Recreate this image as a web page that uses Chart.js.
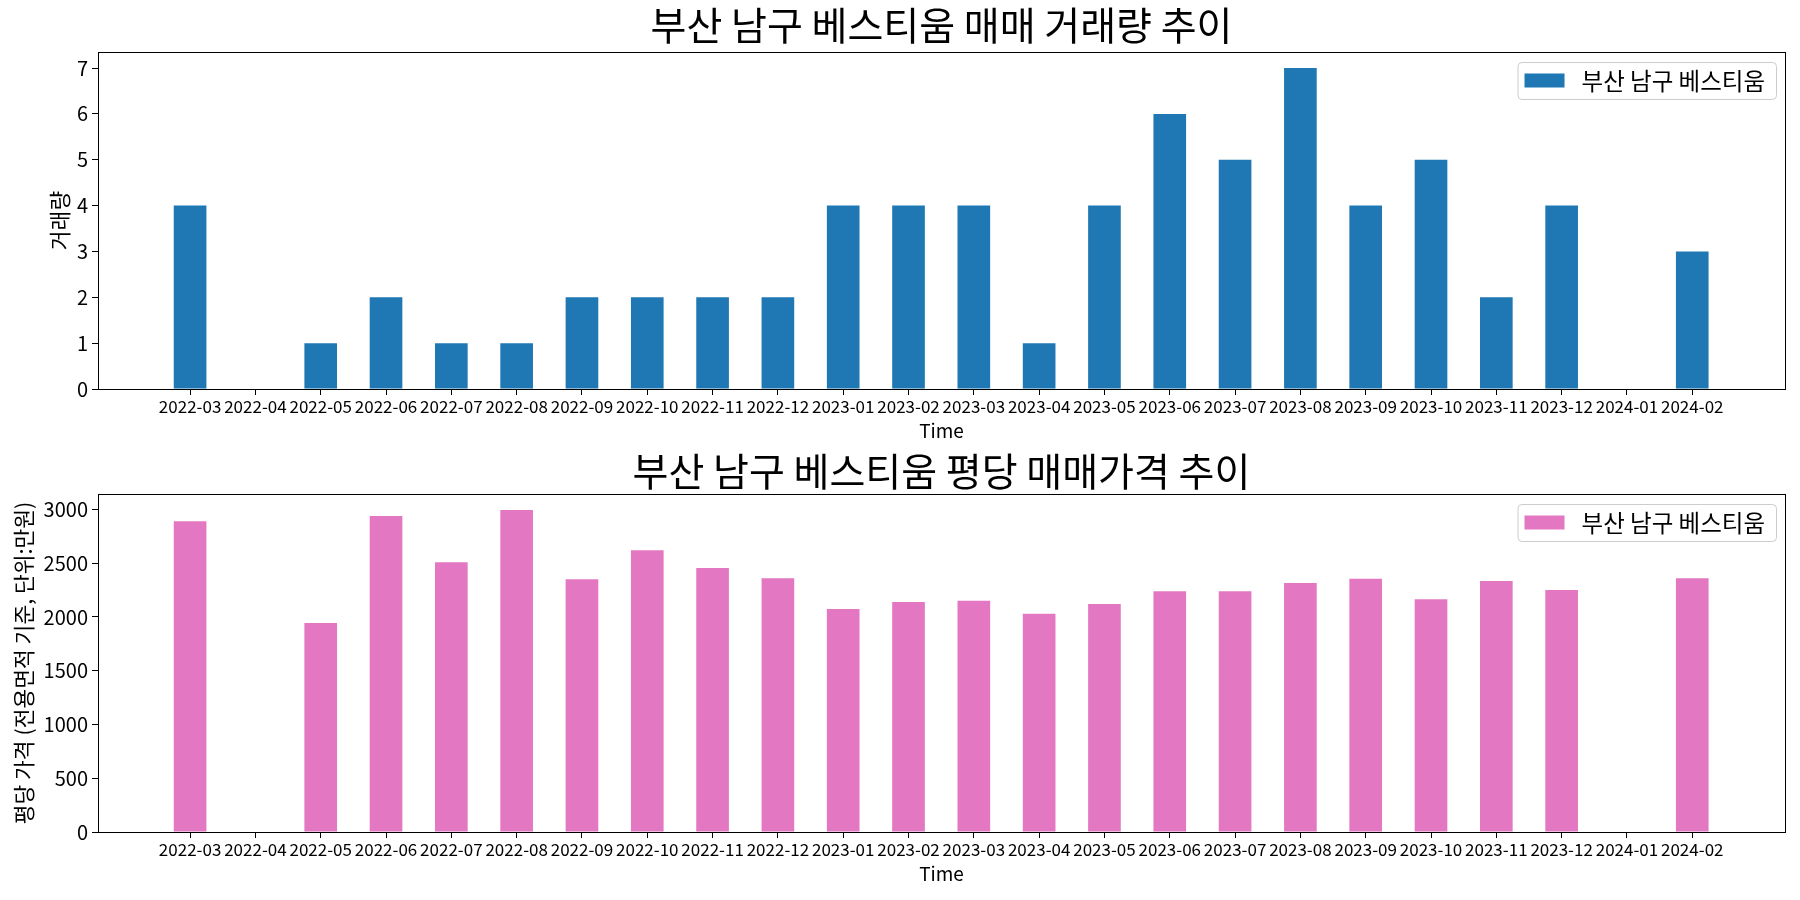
<!DOCTYPE html>
<html>
<head>
<meta charset="utf-8">
<script src="https://cdn.jsdelivr.net/npm/chart.js@4.4.1/dist/chart.umd.min.js"></script>
<style>
  html, body { margin: 0; padding: 0; background: #fff; }
  body { width: 1800px; height: 900px; position: relative; overflow: hidden; }
  .box { position: absolute; left: 0; width: 1800px; height: 450px; }
  #c1box { top: 0; }
  #c2box { top: 450px; }
</style>
</head>
<body>
<div class="box" id="c1box"><canvas id="c1" width="1800" height="450"></canvas></div>
<div class="box" id="c2box"><canvas id="c2" width="1800" height="450"></canvas></div>
<script>
// ---- data ----
const months = ['2022-03','2022-04','2022-05','2022-06','2022-07','2022-08','2022-09','2022-10','2022-11','2022-12',
                '2023-01','2023-02','2023-03','2023-04','2023-05','2023-06','2023-07','2023-08','2023-09','2023-10',
                '2023-11','2023-12','2024-01','2024-02'];
const counts = [4,0,1,2,1,1,2,2,2,2,4,4,4,1,4,6,5,7,4,5,2,4,0,3];
const prices = [2890,null,1945,2940,2510,2995,2350,2620,2455,2360,2075,2140,2150,2030,2120,2240,2240,2315,2355,2165,2335,2250,null,2360];
const countTicks = [0,1,2,3,4,5,6,7];
const priceTicks = [0,500,1000,1500,2000,2500,3000];
const seriesName = '부산 남구 베스티움';
const title1 = '부산 남구 베스티움 매매 거래량 추이';
const title2 = '부산 남구 베스티움 평당 매매가격 추이';
const yLabel1 = '거래량';
const yLabel2 = '평당 가격 (전용면적 기준, 단위:만원)';
const xLabel = 'Time';

const FONT = "'Noto Sans CJK KR', 'Noto Sans', sans-serif";
Chart.defaults.font.family = FONT;
Chart.defaults.color = '#000';

const framePlugin = {
  id: 'frame',
  afterDraw(chart) {
    const {ctx, chartArea: a} = chart;
    ctx.save();
    ctx.strokeStyle = '#000';
    ctx.lineWidth = 1;
    ctx.strokeRect(Math.round(a.left) + 0.5, Math.round(a.top) + 0.5, Math.round(a.right - a.left), Math.round(a.bottom - a.top));
    // legend (matplotlib style, inside upper right)
    const ds = chart.data.datasets[0];
    const fs = 23.5;
    ctx.font = fs + 'px ' + FONT;
    const tw = ctx.measureText(ds.label).width;
    const padL = 7, sw = 40, sh = 14, gap = 17, padR = 11;
    const bw = padL + sw + gap + tw + padR, bh = 37;
    const bx = a.right - 9 - bw, by = a.top + 10;
    ctx.beginPath();
    if (ctx.roundRect) ctx.roundRect(bx + 0.5, by + 0.5, bw, bh, 4); else ctx.rect(bx + 0.5, by + 0.5, bw, bh);
    ctx.fillStyle = 'rgba(255,255,255,0.8)';
    ctx.fill();
    ctx.strokeStyle = '#cccccc';
    ctx.stroke();
    ctx.fillStyle = ds.backgroundColor;
    ctx.fillRect(bx + padL, by + bh / 2 - sh / 2, sw, sh);
    ctx.fillStyle = '#000';
    ctx.textBaseline = 'middle';
    ctx.textAlign = 'left';
    ctx.fillText(ds.label, bx + padL + sw + gap, by + bh / 2 + 1);
    ctx.restore();
  }
};

function makeChart(id, values, color, titleText, yLabel, yTicks, yMax, yTitlePad, titlePad, bottomPad) {
  return new Chart(document.getElementById(id), {
    type: 'bar',
    data: {
      datasets: [{
        label: seriesName,
        data: months.map((m, i) => ({x: i, y: values[i]})),
        backgroundColor: color,
        borderWidth: 0,
        categoryPercentage: 1.0,
        barPercentage: 0.5
      }]
    },
    options: {
      responsive: false,
      animation: false,
      layout: { padding: { left: 0, right: 15, top: 0, bottom: bottomPad } },
      plugins: {
        legend: { display: false },
        tooltip: { enabled: false },
        title: {
          display: true, text: titleText, fullSize: false,
          font: { size: 39, weight: 'normal', lineHeight: 1.0 },
          color: '#000', padding: titlePad
        }
      },
      scales: {
        x: {
          type: 'linear', min: -1.41, max: 24.42, offset: false,
          afterFit(s) { s.height = 61; },
          afterBuildTicks(s) { s.ticks = months.map((m, i) => ({value: i})); },
          grid: { offset: false, drawOnChartArea: false, drawTicks: true, tickLength: 6, color: '#000' },
          border: { display: true, color: '#000', width: 1 },
          ticks: {
            autoSkip: false, maxRotation: 0, minRotation: 0, padding: 1,
            font: { size: 17 }, color: '#000',
            callback: (v) => months[v] !== undefined ? months[v] : ''
          },
          title: { display: true, text: xLabel, font: { size: 19 }, color: '#000', padding: { top: 0, bottom: 8 } }
        },
        y: {
          min: 0, max: yMax,
          afterFit(s) { s.width = 98; },
          afterBuildTicks(s) { s.ticks = yTicks.map(v => ({value: v})); },
          grid: { drawOnChartArea: false, drawTicks: true, tickLength: 6, color: '#000' },
          border: { display: true, color: '#000', width: 1 },
          ticks: { font: { size: 20 }, color: '#000', padding: 4, callback: (v) => String(v) },
          title: { display: true, text: yLabel, font: { size: 21.5 }, color: '#000', padding: { top: yTitlePad, bottom: 0 } }
        }
      }
    },
    plugins: [framePlugin]
  });
}

makeChart('c1', counts, '#1f77b4', title1, yLabel1, countTicks, 7.35, 47, {top: 6, bottom: 7}, 0);
makeChart('c2', prices, '#e377c2', title2, yLabel2, priceTicks, 3144, 11, {top: 2, bottom: 3}, 7);
</script>
</body>
</html>
